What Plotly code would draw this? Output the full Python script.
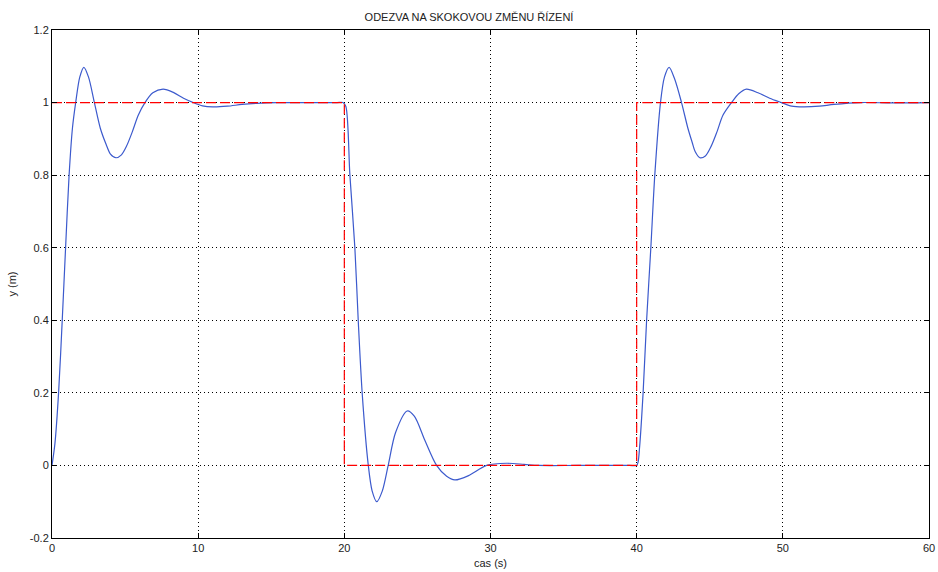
import plotly.graph_objects as go

# Response (blue)
t_resp = [0, 0.2, 0.45, 0.7, 0.93, 1.17, 1.4, 1.62, 1.9, 2.18, 2.5, 2.9, 3.3, 3.7, 4.0, 4.38,
          4.75, 5.1, 5.5, 5.9, 6.36, 6.9, 7.6, 8.3, 9.0, 9.67, 10.3, 11.0, 12.0, 13.0, 14.0, 15.4, 17.0,
          19.5, 19.9, 20.1, 20.38, 20.72, 20.95, 21.22, 21.64, 21.9, 22.22, 22.6, 23.0, 23.5, 24.3, 24.8,
          25.5, 26.31, 27.0, 27.56, 28.5, 29.73, 31.1, 32.3, 33.3, 36.0, 39.5,
          40.0, 40.1, 40.2, 40.44, 40.68, 40.97, 41.24, 41.63, 41.9, 42.22, 42.6, 43.07, 43.5, 43.8, 44.0,
          44.32, 44.7, 45.1, 45.5, 45.9, 46.49, 47.0, 47.51, 48.3, 49.1, 49.9, 50.6, 51.4, 52.5, 53.5,
          55.3, 57.5, 60.0]
y_resp = [0, 0.06, 0.2, 0.4, 0.6, 0.8, 0.93, 1.0, 1.07, 1.097, 1.07, 1.0, 0.93, 0.885, 0.858, 0.848,
          0.856, 0.88, 0.92, 0.965, 1.0, 1.027, 1.037, 1.028, 1.012, 1.0, 0.991, 0.988, 0.99, 0.995, 0.998, 1.0, 1.0,
          1.0, 1.0, 0.99, 0.8, 0.6, 0.4, 0.2, 0.0, -0.07, -0.1, -0.07, 0.0, 0.09, 0.15, 0.135,
          0.07, 0.0, -0.03, -0.04, -0.028, 0.0, 0.006, 0.003, 0.0, 0.0, 0.0,
          0.0, 0.01, 0.05, 0.2, 0.4, 0.6, 0.8, 1.0, 1.07, 1.097, 1.065, 1.0, 0.93, 0.89, 0.865,
          0.848, 0.853, 0.88, 0.92, 0.965, 1.0, 1.025, 1.037, 1.027, 1.012, 1.0, 0.99, 0.988, 0.99, 0.995,
          1.0, 0.999, 1.0]

# Reference setpoint (red dashed)
t_ref = [0, 20, 20, 40, 40, 60]
y_ref = [1, 1, 0, 0, 1, 1]

x_ticks = [0, 10, 20, 30, 40, 50, 60]
y_ticks = [-0.2, 0, 0.2, 0.4, 0.6, 0.8, 1, 1.2]
y_tick_text = ["-0.2", "0", "0.2", "0.4", "0.6", "0.8", "1", "1.2"]

fig = go.Figure()
fig.add_trace(go.Scatter(x=t_resp, y=y_resp, mode="lines",
                         line=dict(color="rgb(60,90,205)", width=1.2, shape="spline", smoothing=0.8),
                         showlegend=False, hoverinfo="skip"))
fig.add_trace(go.Scatter(x=t_ref, y=y_ref, mode="lines",
                         line=dict(color="rgb(255,0,0)", width=1.2, dash="10px,4px"),
                         showlegend=False, hoverinfo="skip"))

font = dict(family="Liberation Sans, Arial, sans-serif", size=11, color="#222222")
axis_common = dict(showline=True, linecolor="black", linewidth=1, mirror="ticks",
                   ticks="inside", ticklen=5, tickcolor="black",
                   showgrid=True, gridcolor="black", gridwidth=1, griddash="1px,3px",
                   zeroline=False, tickfont=font, automargin=False,
                   ticklabeloverflow="allow")

fig.update_layout(
    width=938, height=572,
    paper_bgcolor="white", plot_bgcolor="white",
    margin=dict(l=52, r=9, t=30, b=34),
    title=dict(text="ODEZVA NA SKOKOVOU ZMĚNU ŘÍZENÍ", x=0.5, xanchor="center",
               y=1 - 17 / 572, yanchor="middle", font=font, automargin=False),
    font=font,
    xaxis=dict(range=[0, 60], tickvals=x_ticks, title=dict(text="cas (s)", font=font, standoff=6),
               **axis_common),
    yaxis=dict(range=[-0.2, 1.2], tickvals=y_ticks, ticktext=y_tick_text,
               title=dict(text="y (m)", font=font, standoff=10), **axis_common),
)

fig.write_html("out.html", config={"displayModeBar": False},
               post_script="document.body.style.margin='0';")
